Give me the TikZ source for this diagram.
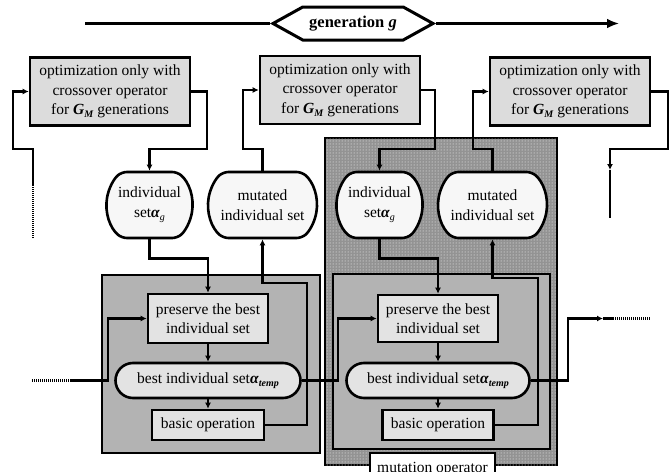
\documentclass[tikz,border=0pt]{standalone}
\usepackage{fontspec}
\setmainfont{Liberation Serif}
\usetikzlibrary{arrows.meta,shapes.misc,shapes.symbols,patterns}
\definecolor{optfill}{HTML}{DCDCDC}
\definecolor{setfill}{HTML}{F7F7F7}
\definecolor{grpfill}{HTML}{B3B3B3}
\definecolor{boxfill}{HTML}{E3E3E3}
\definecolor{regfill}{HTML}{939393}
\newcommand{\mysub}[1]{\raisebox{-0.45ex}{\fontsize{10pt}{10pt}\selectfont #1}}
\newcommand{\myfs}{\fontsize{15.5pt}{19.5pt}\selectfont}
\newcommand{\gm}{\textbf{\textit{G}}\mysub{\textbf{\textit{M}}}}
\begin{document}
\begin{tikzpicture}[x=1pt,y=-1pt,
  lw/.style={line width=2.6pt},
  conn/.style={line width=2.6pt,-{Latex[length=6pt,width=6pt]}},
  dotline/.style={line width=2.6pt,dash pattern=on 1pt off 1pt},
  optbox/.style={draw,line width=2.6pt,fill=optfill,minimum width=160pt,minimum height=68pt,align=center,inner sep=0pt,font=\myfs},
  setnode/.style={draw,line width=2.6pt,fill=setfill,rounded rectangle,rounded rectangle arc length=100,rounded corners=5pt,minimum height=66pt,inner sep=0pt,align=center,font=\myfs},
  grp/.style={draw,line width=2.6pt,fill=grpfill,inner sep=0pt},
  opbox/.style={draw,line width=2.6pt,fill=boxfill,inner sep=0pt,align=center,font=\myfs},
  bestnode/.style={draw,line width=2.6pt,fill=boxfill,rounded rectangle,minimum height=35pt,minimum width=185pt,inner sep=0pt,font=\myfs},
  region/.style={draw,line width=2.6pt,fill=regfill,postaction={pattern=dots,pattern color=white},inner sep=0pt},
  hex/.style={draw,line width=3pt,fill=white,signal,signal to=west and east,signal pointer angle=58,minimum width=160pt,minimum height=33pt,inner sep=0pt,font=\fontsize{16.5pt}{18pt}\selectfont\bfseries},
  lab/.style={draw,line width=2pt,fill=white,minimum width=125pt,text height=11pt,text depth=4pt,inner ysep=8pt,font=\myfs}
]
\useasboundingbox (0,0) rectangle (669,471);

% top generation arrow
\node[hex] (gen) at (353,23.5) {generation \textit{g}};
\coordinate (aL) at (85,23.5);
\coordinate (aR) at (619,23.5);
\draw[lw] (aL) -- (gen.west);
\draw[line width=2.6pt,-{Latex[length=12pt,width=10pt]}] (gen.east) -- (aR);

% mutation region and gray operator boxes
\node[region,minimum width=232pt,minimum height=327pt] (reg) at (441,301.5) {};
\node[grp,minimum width=218pt,minimum height=178pt] (g1) at (211,364) {};
\node[grp,minimum width=217pt,minimum height=175pt] (g2) at (441.5,361.5) {};

% optimization boxes
\node[optbox] (box1) at (110,91.5) {optimization only with\\crossover operator\\for \gm{} generations};
\node[optbox] (box2) at (340,90) {optimization only with\\crossover operator\\for \gm{} generations};
\node[optbox] (box3) at (570,91.5) {optimization only with\\crossover operator\\for \gm{} generations};

% individual sets
\node[setnode,minimum width=85pt] (ind1) at (149.5,205) {individual\\set\textbf{\textit{α}}\mysub{\textit{g}}};
\node[setnode,minimum width=109pt] (mut1) at (262.5,205) {mutated\\individual set};
\node[setnode,minimum width=84pt] (ind2) at (379.5,205) {individual\\set\textbf{\textit{α}}\mysub{\textit{g}}};
\node[setnode,minimum width=109pt] (mut2) at (492.5,205) {mutated\\individual set};

% inner operation nodes
\node[opbox,minimum width=120pt,minimum height=49pt] (pres1) at (208,318.5) {preserve the best\\individual set};
\node[bestnode] (best1) at (208,380.5) {best individual set\textbf{\textit{α}}\mysub{\textbf{\textit{temp}}}};
\node[opbox,minimum width=112pt,minimum height=30pt] (basic1) at (208,425) {basic operation};
\node[opbox,minimum width=120pt,minimum height=47pt] (pres2) at (438,318.5) {preserve the best\\individual set};
\node[bestnode,minimum width=183pt] (best2) at (438,380.5) {best individual set\textbf{\textit{α}}\mysub{\textbf{\textit{temp}}}};
\node[opbox,minimum width=111pt,minimum height=30pt] (basic2) at (438,425) {basic operation};

% top connectors
\coordinate (in1) at (33,238);
\coordinate (in1b) at (33,186);
\draw[dotline] (in1) -- (in1b);
\draw[conn] (in1b) -- (33,149) -- (13,149) |- (box1.west);
\draw[conn] (box1.east) -| (207,149) -| (ind1.north);
\draw[conn] (mut1.north) |- (243,149) |- (box2.west);
\draw[conn] (box2.east) -| (435,149) -| (ind2.north);
\draw[conn] (mut2.north) |- (473,149) |- (box3.west);
\coordinate (mid1) at (610,170);
\coordinate (out1) at (610,218);
\draw[conn] (box3.east) -| (668,149) -| (mid1);
\draw[lw] (mid1) -- (out1);

% operator 1 connectors
\draw[conn] (ind1.south) -- ++(0,19) -| (pres1.north);
\draw[conn] (pres1.south) -- (best1.north);
\draw[conn] (best1.south) -- (basic1.north);
\draw[conn] (basic1.east) -| (307,283) -| (mut1.south);
\coordinate (in2) at (32,380.5);
\coordinate (in2b) at (70,380.5);
\draw[dotline] (in2) -- (in2b);
\draw[conn] (in2b) -| (108,318.5) -- (pres1.west);
\draw[conn] (best1.east) -| (338,318.5) -- (pres2.west);

% operator 2 connectors
\draw[conn] (ind2.south) -- ++(0,19) -| (pres2.north);
\draw[conn] (pres2.south) -- (best2.north);
\draw[conn] (best2.south) -- (basic2.north);
\draw[conn] (basic2.east) -| (538,278) -| (mut2.south);
\coordinate (out2a) at (603,318.5);
\coordinate (out2b) at (613,318.5);
\coordinate (out2c) at (650,318.5);
\draw[conn] (best2.east) -| (568,318.5) -- (out2a);
\draw[lw] (out2a) -- (out2b);
\draw[dotline] (out2b) -- (out2c);

% label
\node[lab,anchor=north] (mutlab) at (432.5,452) {mutation operator};
\end{tikzpicture}
\end{document}
